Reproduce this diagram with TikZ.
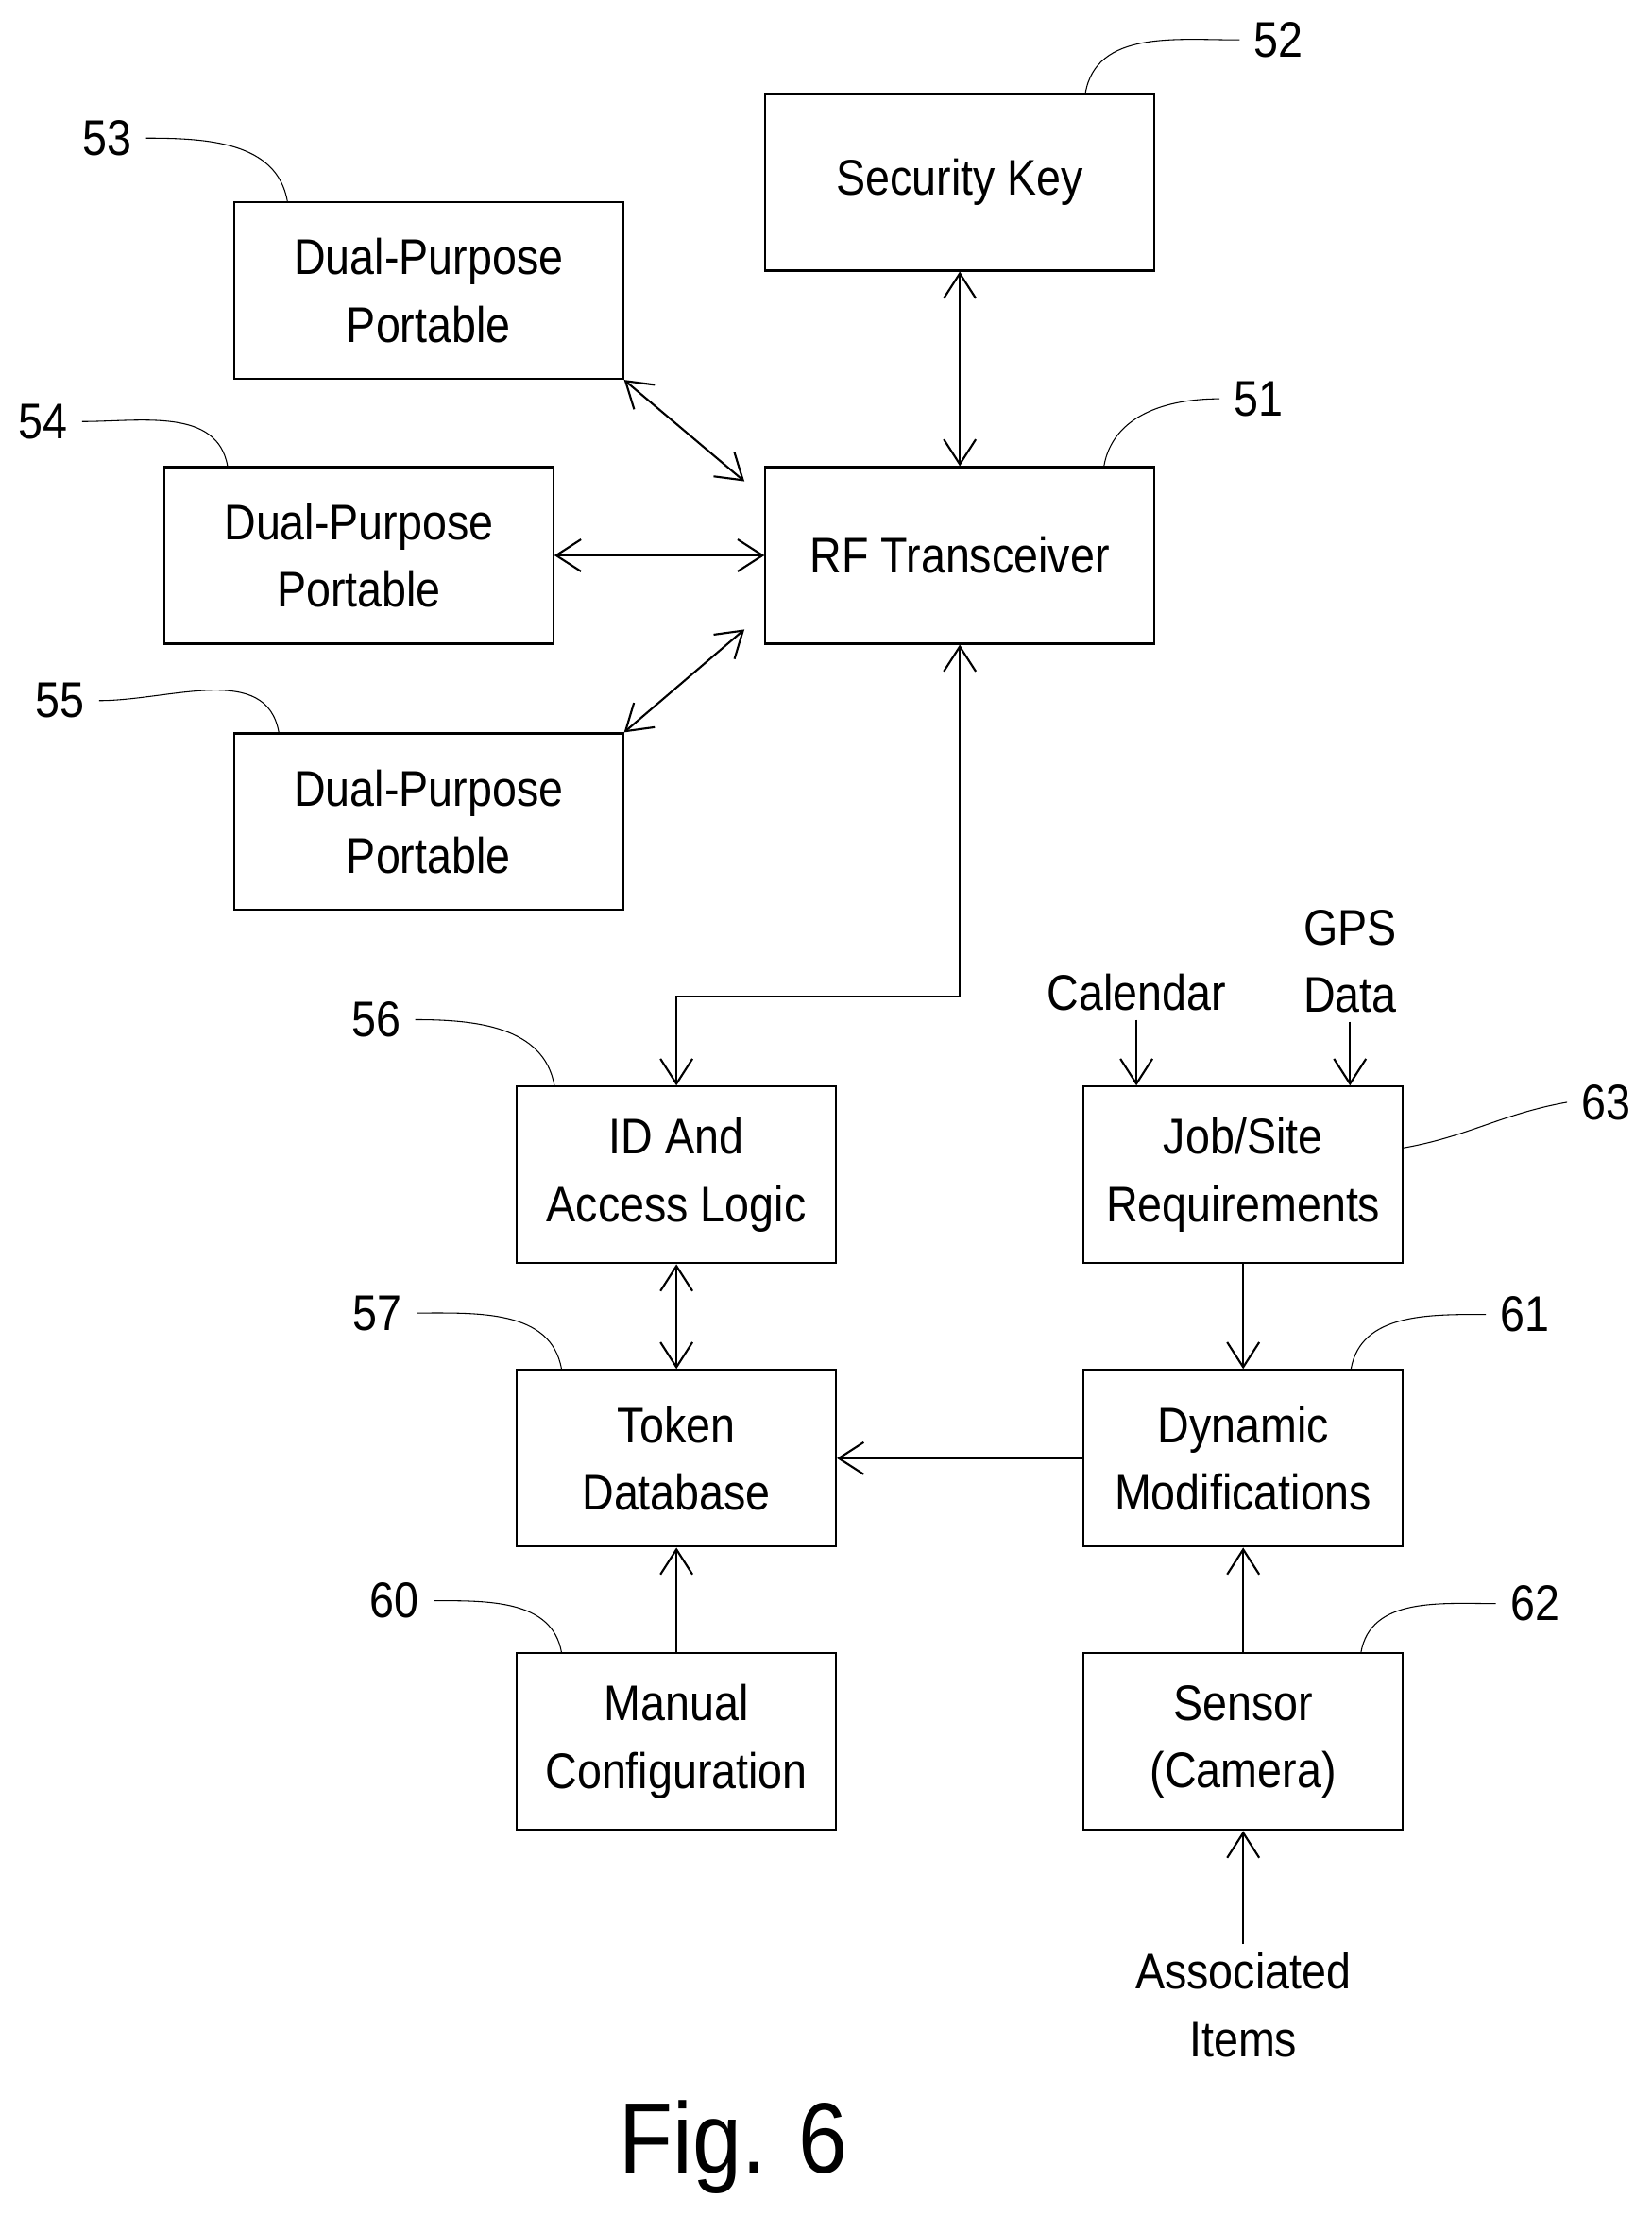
\documentclass[tikz,border=0pt]{standalone}
\usepackage{fontspec}
\setmainfont{Liberation Sans}[FakeStretch=0.88]
\usetikzlibrary{arrows.meta}
\usetikzlibrary{positioning}
\tikzset{every text node part/.style={align=center, font={\fontsize{20}{27}\selectfont}}}
\tikzstyle{block} = [draw, thick, rectangle, minimum width=54.6mm, minimum height=24.8mm, inner sep=0pt]
\tikzstyle{small} = [block, minimum width=44.8mm]
\tikzstyle{ln} = [draw, thick, arrows={-Straight Barb[length=3.5mm,width=4.5mm]}]
\tikzstyle{lnn} = [ln, arrows={Straight Barb[length=3.5mm,width=4.5mm]-Straight Barb[length=3.5mm,width=4.5mm]}]
\tikzstyle{ref} = [inner sep=2mm]
\begin{document}
\begin{tikzpicture}[x=0.2mm, y=-0.2mm]
    \useasboundingbox (0,0) rectangle (1160,1568);
    % Nodes
    \node[block] (key) at (674,128) {Security Key};
    \node[block] (dp53) at (301,204) {Dual-Purpose\\Portable};
    \node[block] (dp54) at (252,390) {Dual-Purpose\\Portable};
    \node[block] (rf) at (674,390) {RF Transceiver};
    \node[block] (dp55) at (301,577) {Dual-Purpose\\Portable};
    \node[small] (idl) at (475,825) {ID And\\Access Logic};
    \node[small] (job) at (873,825) {Job/Site\\Requirements};
    \node[small] (token) at (475,1024) {Token\\Database};
    \node[small] (dyn) at (873,1024) {Dynamic\\Modifications};
    \node[small] (manual) at (475,1223) {Manual\\Configuration};
    \node[small] (sensor) at (873,1223) {Sensor\\(Camera)};
    \node (cal) at (798,697) {Calendar};
    \node (gps) at (948,675) {GPS\\Data};
    \node (assoc) at (873,1408) {Associated\\Items};
    \node at (515,1508) {\fontsize{40}{46}\selectfont Fig. 6};

    % Reference numerals
    \node[ref] (n52) at (898,28) {52};
    \node[ref] (n53) at (75,97) {53};
    \node[ref] (n51) at (884,280) {51};
    \node[ref] (n54) at (30,296) {54};
    \node[ref] (n55) at (42,492) {55};
    \node[ref] (n56) at (264,716) {56};
    \node[ref] (n63) at (1128,774) {63};
    \node[ref] (n57) at (265,922) {57};
    \node[ref] (n61) at (1071,923) {61};
    \node[ref] (n60) at (277,1124) {60};
    \node[ref] (n62) at (1078,1126) {62};
    \draw (key.north east) ++(-49,0) to[out=80,in=180] (n52.west);
    \draw (dp53.north west) ++(38,0) to[out=100,in=0] (n53.east);
    \draw (rf.north east) ++(-36,0) to[out=80,in=180] (n51.west);
    \draw (dp54.north west) ++(45,0) to[out=100,in=0] (n54.east);
    \draw (dp55.north west) ++(32,0) to[out=100,in=0] (n55.east);
    \draw (idl.north west) ++(27,0) to[out=100,in=0] (n56.east);
    \draw (job.east) ++(0,-19) to[out=10,in=190] (n63.west);
    \draw (token.north west) ++(32,0) to[out=100,in=0] (n57.east);
    \draw (dyn.north east) ++(-37,0) to[out=80,in=180] (n61.west);
    \draw (manual.north west) ++(32,0) to[out=100,in=0] (n60.east);
    \draw (sensor.north east) ++(-30,0) to[out=80,in=180] (n62.west);

    % Paths
    \draw[lnn] (key) -- (rf);
    \draw[lnn] (dp53.south east) -- ([xshift=-8]rf.north west |- 0,338);
    \draw[lnn] (dp54) -- (rf);
    \draw[lnn] (dp55.north east) -- ([xshift=-8]rf.south west |- 0,442);
    \draw[lnn] (rf.south) |- (475,700) -- (idl.north);
    \draw[lnn] (idl) -- (token);
    \draw[ln] (dyn) -- (token);
    \draw[ln] (job) -- (dyn);
    \draw[ln] (manual) -- (token);
    \draw[ln] (sensor) -- (dyn);
    \draw[ln] (assoc) -- (sensor);
    \draw[ln] (cal) -- (cal |- job.north);
    \draw[ln] (gps) -- (gps |- job.north);
\end{tikzpicture}
\end{document}
